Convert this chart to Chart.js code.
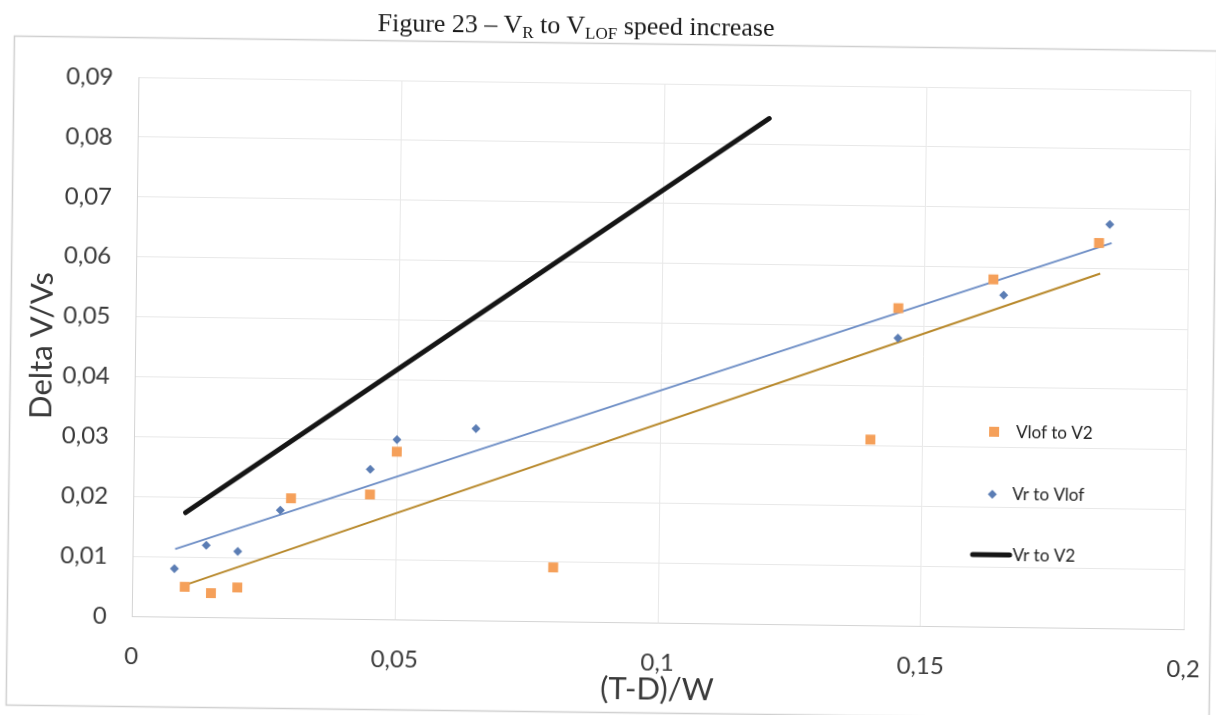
<!DOCTYPE html>
<html><head><meta charset="utf-8">
<script src="https://cdn.jsdelivr.net/npm/chart.js@4.4.1/dist/chart.umd.min.js"></script>
<style>
html,body{margin:0;padding:0;background:#fff;overflow:hidden;width:1216px;height:715px;}
#page{position:relative;width:1216px;height:715px;transform:rotate(0.71deg);transform-origin:50% 50%;}
#title{position:absolute;left:0;top:11px;width:1144px;text-align:center;font-family:"Liberation Serif","Times New Roman",serif;font-size:26px;line-height:30px;color:#1a1a1a;white-space:nowrap;}
#title sub{font-size:17px;vertical-align:-5px;line-height:0;}
canvas{position:absolute;left:0;top:0;}
</style></head><body>
<div id="page">
<canvas id="c" width="1216" height="715"></canvas>
<div id="title">Figure 23 – V<sub>R</sub> to V<sub>LOF</sub> speed increase</div>
</div>
<script>
// ---- data ----
const vlofX = [0.01, 0.015, 0.02, 0.03, 0.045, 0.05, 0.08, 0.14, 0.145, 0.163, 0.183];
const vlofY = [0.005, 0.004, 0.005, 0.020, 0.0208, 0.028, 0.009, 0.031, 0.053, 0.058, 0.0643];
const vrX = [0.008, 0.014, 0.02, 0.028, 0.045, 0.05, 0.065, 0.145, 0.165, 0.185];
const vrY = [0.008, 0.012, 0.011, 0.018, 0.025, 0.030, 0.032, 0.048, 0.0554, 0.0674];
const vrV2X = [0.01, 0.12];
const vrV2Y = [0.0174, 0.0844];
const vlofTrendX = [0.0104, 0.1833];
const vlofTrendY = [0.0054, 0.0592];
const vrTrendX = [0.0081, 0.1854];
const vrTrendY = [0.0113, 0.0643];
const seriesNames = ['Vlof to V2', 'Vr to Vlof', 'Vr to V2'];
const xTickLabels = ['0', '0,05', '0,1', '0,15', '0,2'];
const yTickLabels = ['0', '0,01', '0,02', '0,03', '0,04', '0,05', '0,06', '0,07', '0,08', '0,09'];
const xTitle = '(T-D)/W';
const yTitle = 'Delta V/Vs';

const pts = (xs, ys) => xs.map((x, i) => ({x: x, y: ys[i]}));

const COL_ORANGE = '#f5a05a';
const COL_BLUE = '#5b7db4';
const COL_BLUE_TREND = '#6f8fc6';
const COL_ORANGE_TREND = '#b8892c';
const COL_BLACK = '#151515';

const framePlugin = {
  id: 'frame',
  beforeDraw(chart) {
    const ctx = chart.ctx;
    ctx.save();
    ctx.fillStyle = '#ffffff';
    ctx.fillRect(0, 0, chart.width, chart.height);
    ctx.strokeStyle = '#cfcfcf';
    ctx.lineWidth = 1.5;
    ctx.strokeRect(10.5, 43.5, 1203, 669);
    ctx.restore();
  }
};

const legendPlugin = {
  id: 'customLegend',
  afterDraw(chart) {
    const ctx = chart.ctx;
    ctx.save();
    ctx.font = '17px Lato';
    ctx.fillStyle = '#222222';
    ctx.textBaseline = 'middle';
    ctx.textAlign = 'left';
    // Vlof to V2
    ctx.fillStyle = COL_ORANGE;
    ctx.fillRect(990, 422, 10, 10);
    ctx.fillStyle = '#222222';
    ctx.fillText(seriesNames[0], 1017, 428);
    // Vr to Vlof
    ctx.fillStyle = COL_BLUE;
    ctx.beginPath();
    ctx.moveTo(994, 485); ctx.lineTo(998.5, 489.5); ctx.lineTo(994, 494); ctx.lineTo(989.5, 489.5);
    ctx.closePath(); ctx.fill();
    ctx.fillStyle = '#222222';
    ctx.fillText(seriesNames[1], 1014, 490);
    // Vr to V2
    ctx.strokeStyle = COL_BLACK;
    ctx.lineWidth = 5;
    ctx.lineCap = 'round';
    ctx.beginPath(); ctx.moveTo(975, 550); ctx.lineTo(1012, 550); ctx.stroke();
    ctx.fillText(seriesNames[2], 1015, 551);
    ctx.restore();
  }
};

new Chart(document.getElementById('c'), {
  type: 'scatter',
  data: {
    datasets: [
      {
        label: seriesNames[0], data: pts(vlofX, vlofY), order: 1,
        pointStyle: 'rect', pointRadius: 7, pointHoverRadius: 7,
        backgroundColor: COL_ORANGE, borderColor: COL_ORANGE, borderWidth: 0, showLine: false
      },
      {
        label: seriesNames[1], data: pts(vrX, vrY), order: 0,
        pointStyle: 'rectRot', pointRadius: 4.5, pointHoverRadius: 4.5,
        backgroundColor: COL_BLUE, borderColor: COL_BLUE, borderWidth: 0, showLine: false
      },
      {
        label: seriesNames[2], data: pts(vrV2X, vrV2Y), order: 2,
        showLine: true, borderColor: COL_BLACK, borderWidth: 5, pointRadius: 0,
        borderCapStyle: 'round', fill: false
      },
      {
        label: 'trend Vr to Vlof', data: pts(vrTrendX, vrTrendY), order: 3,
        showLine: true, borderColor: COL_BLUE_TREND, borderWidth: 2, pointRadius: 0, fill: false
      },
      {
        label: 'trend Vlof to V2', data: pts(vlofTrendX, vlofTrendY), order: 4,
        showLine: true, borderColor: COL_ORANGE_TREND, borderWidth: 2, pointRadius: 0, fill: false
      }
    ]
  },
  options: {
    responsive: false,
    animation: false,
    events: [],
    layout: { padding: { top: 83, right: 29, left: 0, bottom: 0 } },
    elements: { line: { tension: 0 } },
    plugins: {
      legend: { display: false },
      tooltip: { enabled: false },
      title: { display: false }
    },
    scales: {
      x: {
        type: 'linear', min: 0, max: 0.2,
        afterFit: s => { s.height = 93; s.paddingLeft = 0; s.paddingRight = 0; },
        ticks: {
          stepSize: 0.05, padding: 26, color: '#3a3a3a',
          font: { family: 'Lato', size: 24 },
          callback: (v, i) => xTickLabels[i]
        },
        grid: { color: '#e8e8e8', drawTicks: false, lineWidth: 1 },
        border: { color: '#d4d4d4', width: 1 },
        title: {
          display: true, text: xTitle, color: '#3a3a3a',
          font: { family: 'Lato', size: 31 }, padding: { top: 0, bottom: 7 }
        }
      },
      y: {
        type: 'linear', min: 0, max: 0.09,
        afterFit: s => { s.width = 135; },
        ticks: {
          stepSize: 0.01, padding: 25, color: '#3a3a3a',
          font: { family: 'Lato', size: 24 },
          callback: (v, i) => yTickLabels[i]
        },
        grid: { color: '#e8e8e8', drawTicks: false, lineWidth: 1 },
        border: { color: '#d4d4d4', width: 1 },
        title: {
          display: true, text: yTitle, color: '#3a3a3a',
          font: { family: 'Lato', size: 31 }, padding: { top: 23, bottom: 0 }
        }
      }
    }
  },
  plugins: [framePlugin, legendPlugin]
});
</script>
</body></html>
